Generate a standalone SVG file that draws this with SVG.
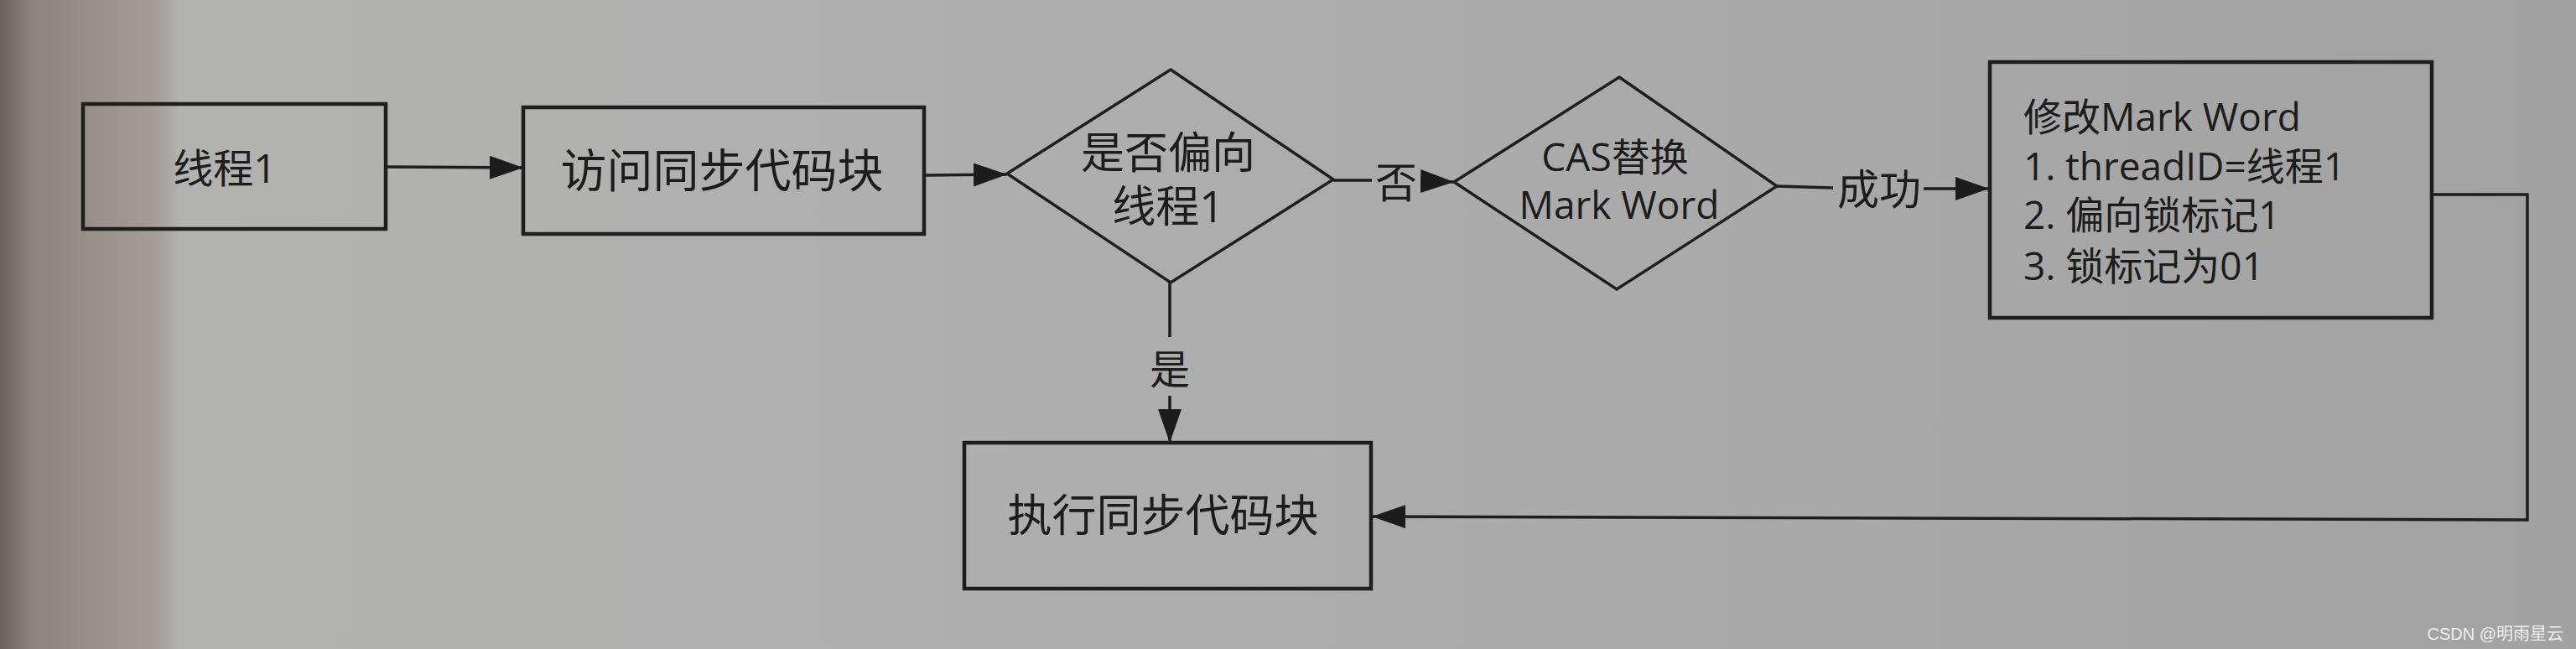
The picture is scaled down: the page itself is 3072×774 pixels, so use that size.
<svg xmlns="http://www.w3.org/2000/svg" width="3072" height="774" viewBox="0 0 3072 774">
<defs>
<linearGradient id="paper" x1="0" y1="0" x2="1" y2="0">
<stop offset="0" stop-color="#66625b"/>
<stop offset="0.012" stop-color="#8a857c"/>
<stop offset="0.06" stop-color="#a29e96"/>
<stop offset="0.07" stop-color="#b2b2b0"/>
<stop offset="0.3" stop-color="#b0b0b0"/>
<stop offset="0.7" stop-color="#a9a9a9"/>
<stop offset="1" stop-color="#a2a2a2"/>
</linearGradient>
<marker id="arr" markerUnits="userSpaceOnUse" markerWidth="42" markerHeight="30" refX="40" refY="14" orient="auto">
<path d="M0,0 L40,14 L0,28 z" fill="#1c1c1c"/>
</marker>
<style>
.box{fill:none;stroke:#1e1e1e;stroke-width:4.5}
.dia{fill:none;stroke:#1e1e1e;stroke-width:3.5}
.con{fill:none;stroke:#1e1e1e;stroke-width:3.5}
.t{font-family:"Open Sans","Noto Sans CJK SC",sans-serif;fill:#1c1c1c;dominant-baseline:central}
.c{text-anchor:middle}
</style>
</defs>
<rect x="0" y="0" width="3072" height="774" fill="url(#paper)"/>

<g id="connectors">
<path class="con" d="M461,199 L624,200" marker-end="url(#arr)"/>
<path class="con" d="M1102,209 L1201,208" marker-end="url(#arr)"/>
<path class="con" d="M1590,215 L1636,215"/>
<text class="t c" x="1665" y="217" font-size="50">否</text>
<path class="con" d="M1694,216 L1734,217" marker-end="url(#arr)"/>
<path class="con" d="M2119,222 L2186,224"/>
<text class="t c" x="2241" y="225" font-size="50">成功</text>
<path class="con" d="M2294,225 L2372,225" marker-end="url(#arr)"/>
<path class="con" d="M2900,232 L3014,232 L3014,620 L1636,616" marker-end="url(#arr)"/>
<path class="con" d="M1395,337 L1395,402"/>
<text class="t c" x="1395" y="439" font-size="48">是</text>
<path class="con" d="M1395,472 L1395,528" marker-end="url(#arr)"/>
</g>

<g id="node-thread1">
<rect class="box" x="99" y="124" width="361" height="149"/>
<text class="t c" x="268" y="199" font-size="48">线程1</text>
</g>

<g id="node-access">
<rect class="box" x="624" y="128" width="478" height="151"/>
<text class="t c" x="861" y="201" font-size="55">访问同步代码块</text>
</g>

<g id="node-biased">
<polygon class="dia" points="1396,83 1590,214 1396,337 1201,207"/>
<text class="t c" x="1393" y="180" font-size="52">是否偏向</text>
<text class="t c" x="1393" y="244" font-size="52">线程1</text>
</g>

<g id="node-cas">
<polygon class="dia" points="1931,92 2119,222 1928,345 1734,217"/>
<text class="t c" x="1926" y="186" font-size="46">CAS替换</text>
<text class="t c" x="1931" y="243" font-size="46">Mark Word</text>
</g>

<g id="node-modify">
<rect class="box" x="2373" y="74" width="527" height="305"/>
<text class="t" x="2413" y="138" font-size="46">修改Mark Word</text>
<text class="t" x="2413" y="197" font-size="46">1. threadID=线程1</text>
<text class="t" x="2413" y="255" font-size="46">2. 偏向锁标记1</text>
<text class="t" x="2413" y="316" font-size="46">3. 锁标记为01</text>
</g>

<g id="node-exec">
<rect class="box" x="1150" y="528" width="485" height="174"/>
<text class="t c" x="1387" y="613" font-size="53">执行同步代码块</text>
</g>

<text x="3057" y="756" font-size="20" text-anchor="end" fill="#eeeeee" style="font-family:'Liberation Sans','Noto Sans CJK SC',sans-serif;dominant-baseline:central">CSDN @明雨星云</text>
</svg>
